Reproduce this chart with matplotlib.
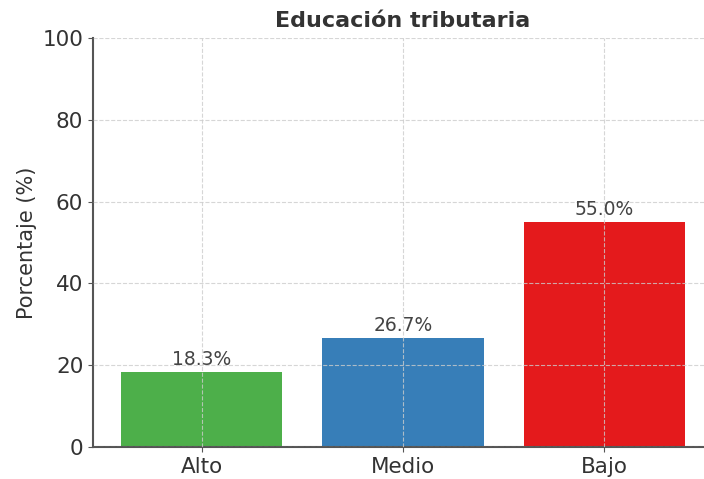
import matplotlib.pyplot as plt

categories = ["Alto", "Medio", "Bajo"]
percentages = [18.3, 26.7, 55.0]
colors = ["#4daf4a", "#377eb8", "#e41a1c"]

textColor = "#333333"
plt.rcParams["font.family"] = "DejaVu Sans"

fig = plt.figure(figsize=(7.04, 4.79), dpi=100)
# axes run slightly off the right edge, as in the reference
ax = fig.add_axes([93 / 704, 1 - 447 / 479, 620 / 704, 409 / 479])

bars = ax.bar(categories, percentages, color=colors, width=0.8)
for bar, value in zip(bars, percentages):
    ax.text(bar.get_x() + bar.get_width() / 2, value + 0.8, f"{value}%",
            ha="center", va="bottom", fontsize=13.5, color="#444444")

ax.set_ylim(0, 100)
ax.set_ylabel("Porcentaje (%)", fontsize=15, color=textColor)
ax.set_title("Educación tributaria", fontsize=16, fontweight="bold",
             color=textColor, pad=8)
ax.grid(True, linestyle="--", color="#cccccc", alpha=0.8)
ax.set_axisbelow(False)
ax.tick_params(labelsize=15.5, colors="#555555", labelcolor=textColor)
for side in ["top", "right"]:
    ax.spines[side].set_visible(False)
for side in ["left", "bottom"]:
    ax.spines[side].set_color("#555555")
    ax.spines[side].set_linewidth(1.5)

fig.savefig("out.png", dpi=100)
